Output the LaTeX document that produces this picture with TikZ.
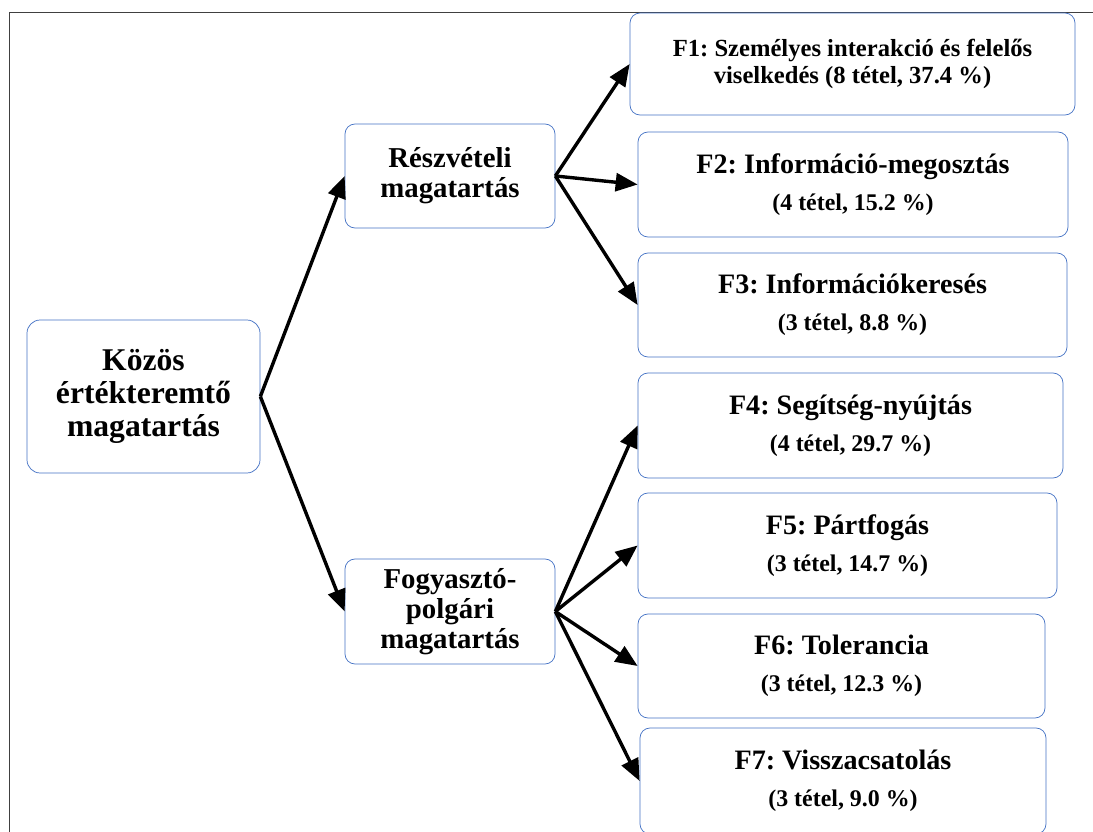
\documentclass[tikz,border=0pt]{standalone}
\usepackage{fontspec}
\setmainfont{Liberation Serif}
\usepackage{tikz}
\usetikzlibrary{calc}
\usetikzlibrary{arrows.meta}
\frenchspacing

% Changing colours of the frame and the boxes
\definecolor{r68g114b196}{rgb}{0.266667,0.447059,0.768627}
\definecolor{r64g64b64}{rgb}{0.250980,0.250980,0.250980}

\begin{document}
\begin{tikzpicture}[
    factorbox/.style={draw=r68g114b196, line width=0.018cm, rounded corners=0.25cm,
      align=center, inner sep=0pt, font=\bfseries},
    branch/.style={line width=0.085cm, -{Triangle[length=0.55cm,width=0.45cm]}}
  ]
  \useasboundingbox (0.000000,0.000000) rectangle (27.325000,20.775000);%
  \clip (0.000000,0.000000) rectangle (27.325000,20.775000);%

  % Drawing frame (cut by the page at right and bottom)
  \draw [line width=0.035cm, r64g64b64] (0.237500,-0.500000) rectangle (27.700000,20.462500);%

  % Root box
  \node [factorbox, minimum width=5.825000cm, minimum height=3.825000cm, rounded corners=0.33cm,
    font=\bfseries\fontsize{22.5}{23.5}\selectfont] (kozos) at (3.587500,10.862500)
    {Közös\\értékteremtő\\magatartás};%

  % Middle boxes
  \node [factorbox, minimum width=5.250000cm, minimum height=2.600000cm,
    font=\bfseries\fontsize{20.5}{21.5}\selectfont] (reszveteli) at (11.250000,16.375000)
    {Részvételi\\magatartás};%
  \node [factorbox, minimum width=5.250000cm, minimum height=2.625000cm,
    font=\bfseries\fontsize{20.5}{21.5}\selectfont] (fogyaszto) at (11.250000,5.487500)
    {Fogyasztó-\\polgári\\magatartás};%

  % Factor boxes F1 .. F7
  \node [factorbox, minimum width=11.125000cm, minimum height=2.550000cm,
    font=\bfseries\fontsize{17.5}{19.5}\selectfont] (f1) at (21.312500,19.175000)
    {F1: Személyes interakció és felelős\\viselkedés (8 tétel, 37.4 \%)};%
  \node [factorbox, minimum width=10.750000cm, minimum height=2.625000cm,
    font=\bfseries\fontsize{20}{26.5}\selectfont] (f2) at (21.325000,16.162500)
    {F2: Információ-megosztás\\{\fontsize{17}{18}\selectfont (4 tétel, 15.2 \%)}};%
  \node [factorbox, minimum width=10.725000cm, minimum height=2.600000cm,
    font=\bfseries\fontsize{20}{26.5}\selectfont] (f3) at (21.312500,13.150000)
    {F3: Információkeresés\\{\fontsize{17}{18}\selectfont (3 tétel, 8.8 \%)}};%
  \node [factorbox, minimum width=10.625000cm, minimum height=2.625000cm,
    font=\bfseries\fontsize{20}{26.5}\selectfont] (f4) at (21.262500,10.137500)
    {F4: Segítség-nyújtás\\{\fontsize{17}{18}\selectfont (4 tétel, 29.7 \%)}};%
  \node [factorbox, minimum width=10.475000cm, minimum height=2.625000cm,
    font=\bfseries\fontsize{20}{26.5}\selectfont] (f5) at (21.187500,7.137500)
    {F5: Pártfogás\\{\fontsize{17}{18}\selectfont (3 tétel, 14.7 \%)}};%
  \node [factorbox, minimum width=10.175000cm, minimum height=2.600000cm,
    font=\bfseries\fontsize{20}{26.5}\selectfont] (f6) at (21.037500,4.125000)
    {F6: Tolerancia\\{\fontsize{17}{18}\selectfont (3 tétel, 12.3 \%)}};%
  \node [factorbox, minimum width=10.150000cm, minimum height=2.650000cm,
    font=\bfseries\fontsize{20}{26.5}\selectfont] (f7) at (21.075000,1.250000)
    {F7: Visszacsatolás\\{\fontsize{17}{18}\selectfont (3 tétel, 9.0 \%)}};%

  % Drawing arrows from the root
  \draw [branch] (kozos.east) -- (reszveteli.west);%
  \draw [branch] (kozos.east) -- (fogyaszto.west);%

  % Drawing arrows to F1 .. F3
  \draw [branch] (reszveteli.east) -- (f1.west);%
  \draw [branch] (reszveteli.east) -- (f2.west);%
  \draw [branch] (reszveteli.east) -- (f3.west);%

  % Drawing arrows to F4 .. F7
  \draw [branch] (fogyaszto.east) -- (f4.west);%
  \draw [branch] (fogyaszto.east) -- (f5.west);%
  \draw [branch] (fogyaszto.east) -- (f6.west);%
  \draw [branch] (fogyaszto.east) -- (f7.west);%
\end{tikzpicture}
\end{document}
